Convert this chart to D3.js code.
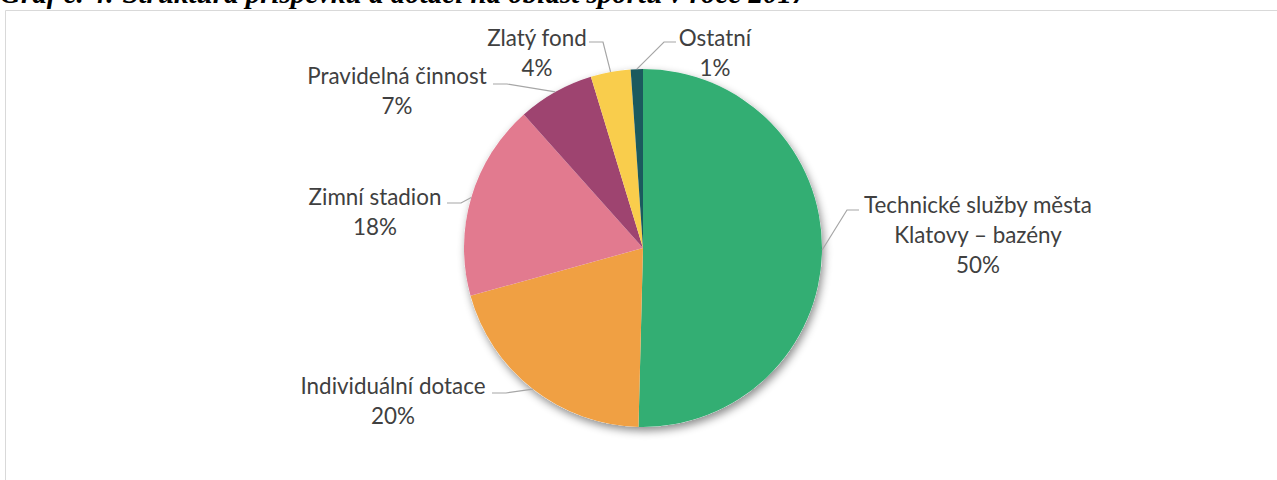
<!DOCTYPE html>
<html>
<head>
<meta charset="utf-8">
<script src="https://cdn.jsdelivr.net/npm/d3@7"></script>
<style>
  html, body { margin: 0; padding: 0; background: #fff; }
  svg { display: block; }
  .lbl { font-family: Lato, "Open Sans", sans-serif; font-size: 22.4px; fill: #404040; }
</style>
</head>
<body>
<svg width="1277" height="480"></svg>
<script>
const categories = ["Technické služby města Klatovy – bazény", "Individuální dotace", "Zimní stadion", "Pravidelná činnost", "Zlatý fond", "Ostatní"];
const values = [50.4, 20.3, 17.7, 6.9, 3.6, 1.1];
const colors = ["#33ae73", "#f0a043", "#e27a8f", "#9e4470", "#f9cd4c", "#1b5a5e"];

// label text lines (wrapped as in the original)
const labelLines = [
  ["Technické služby města", "Klatovy – bazény"],
  ["Individuální dotace"],
  ["Zimní stadion"],
  ["Pravidelná činnost"],
  ["Zlatý fond"],
  ["Ostatní"]
];

const svg = d3.select("svg");

// title, mostly cut off at the top of the picture
svg.append("text")
  .attr("x", 0).attr("y", 3)
  .style("font-family", "'Liberation Serif', serif")
  .style("font-weight", "bold").style("font-style", "italic")
  .style("font-size", "29px").attr("fill", "#000")
  .text("Graf č. 4: Struktura příspěvků a dotací na oblast sportu v roce 2017");

// chart frame
svg.append("path")
  .attr("d", "M5.5,480 V10.5 H1277")
  .attr("fill", "none").attr("stroke", "#d9d9d9").attr("stroke-width", 1);

const cx = 643, cy = 248, r = 179;

const defs = svg.append("defs");
const f = defs.append("filter").attr("id", "shadow")
  .attr("x", "-20%").attr("y", "-20%").attr("width", "140%").attr("height", "140%");
f.append("feDropShadow").attr("dx", 2).attr("dy", 4).attr("stdDeviation", 4)
  .attr("flood-color", "#000").attr("flood-opacity", 0.45);

const pie = d3.pie().sort(null).value(d => d)(values);
const arc = d3.arc().innerRadius(0).outerRadius(r);

const g = svg.append("g").attr("transform", `translate(${cx},${cy})`);

g.append("circle").attr("r", r).attr("fill", "#fff").attr("filter", "url(#shadow)");

g.selectAll("path.slice")
  .data(pie)
  .enter().append("path")
  .attr("class", "slice")
  .attr("d", arc)
  .attr("fill", (d, i) => colors[i]);

// label layout: text centre x, first-line y (centre), end of leader line near the text
const labelLayout = [
  { x: 978, y: 205, lx: 859, ly: 210, side: 1 },
  { x: 393, y: 386, lx: 492, ly: 393, side: -1 },
  { x: 375, y: 197, lx: 447, ly: 203, side: -1 },
  { x: 397, y: 76,  lx: 493, ly: 84,  side: -1 },
  { x: 537, y: 38,  lx: 589, ly: 42,  side: -1 },
  { x: 715, y: 38,  lx: 676, ly: 42,  side: 1 }
];

const total = d3.sum(values);
const pctFmt = v => Math.round(v / total * 100) + "%";

pie.forEach((d, i) => {
  const a = (d.startAngle + d.endAngle) / 2;
  const px = cx + r * Math.sin(a), py = cy - r * Math.cos(a);
  const L = labelLayout[i];
  const ex = L.side < 0 ? L.lx + 14 : L.lx - 12;
  svg.append("polyline")
    .attr("points", `${px},${py} ${ex},${L.ly} ${L.lx},${L.ly}`)
    .attr("fill", "none").attr("stroke", "#a6a6a6").attr("stroke-width", 1.2);

  const lines = labelLines[i].concat([pctFmt(values[i])]);
  const t = svg.append("text").attr("class", "lbl").attr("text-anchor", "middle");
  lines.forEach((s, k) => {
    t.append("tspan").attr("x", L.x).attr("y", L.y + k * 30).attr("dy", "0.35em").text(s);
  });
});
</script>
</body>
</html>
